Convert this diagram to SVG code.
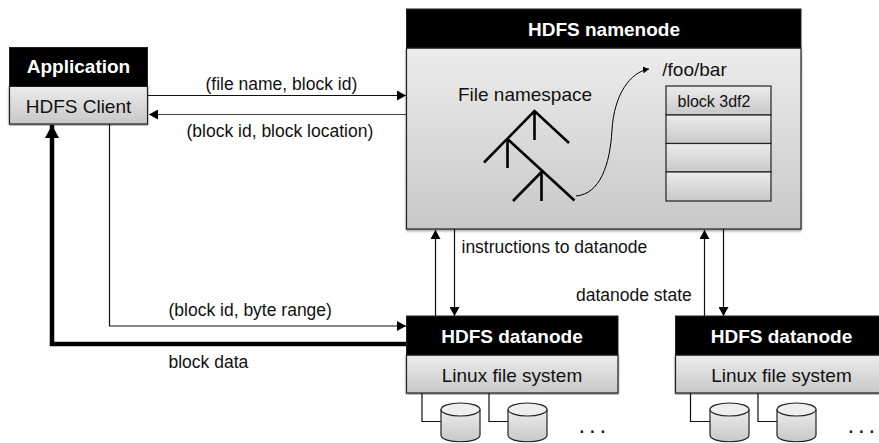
<svg xmlns="http://www.w3.org/2000/svg" width="879" height="443" viewBox="0 0 879 443">
<defs>
<linearGradient id="g" x1="0" y1="0" x2="0" y2="1"><stop offset="0" stop-color="#ececec"/><stop offset="1" stop-color="#c8c8c8"/></linearGradient>
<filter id="s" x="-5%" y="-5%" width="110%" height="110%"><feDropShadow dx="0" dy="1.5" stdDeviation="1.2" flood-color="#000" flood-opacity="0.4"/></filter>
<marker id="a" markerUnits="userSpaceOnUse" markerWidth="10" markerHeight="10" refX="9" refY="5" orient="auto"><path d="M0 0L9 5L0 10Z" fill="#000"/></marker>
<marker id="b" markerUnits="userSpaceOnUse" markerWidth="14" markerHeight="14" refX="13" refY="7" orient="auto"><path d="M0 0L13 7L0 14Z" fill="#000"/></marker>
<marker id="c" markerUnits="userSpaceOnUse" markerWidth="7" markerHeight="7" refX="6" refY="3.5" orient="auto"><path d="M0 0L6 3.5L0 7Z" fill="#000"/></marker>
<g id="cyl"><path d="M0 6.500V32C0 41 39 41 39 32V6.500" fill="url(#g)" stroke="#222" stroke-width="1.2"/><ellipse cx="19.500" cy="6.500" rx="19.500" ry="6.500" fill="#eee" stroke="#222" stroke-width="1.2"/></g>
</defs>
<style>
text{font-family:"Liberation Sans",Arial,sans-serif;fill:#111}
.t{font-size:17.500px}.n{font-size:19px;text-anchor:middle}.h{font-size:19px;font-weight:bold;fill:#fff;text-anchor:middle}
.d{font-size:24px}
.body{fill:url(#g);stroke:#222;stroke-width:1.2}.head{fill:#000;stroke:#222}
.l{fill:none;stroke:#111;stroke-width:1.2}.tree{fill:none;stroke:#000;stroke-width:2.600}
</style>
<g id="connectors">
<path class="l" d="M148 95.500H406" marker-end="url(#a)"/>
<path class="l" d="M406 114.500H149" marker-end="url(#a)" style="stroke:#444"/>
<path class="l" d="M109.500 124V326H406" marker-end="url(#a)"/>
<path fill="none" stroke="#000" stroke-width="4.500" d="M406 344H52V125" marker-end="url(#b)"/>
<path class="l" d="M435.500 316V230" marker-end="url(#a)"/>
<path class="l" d="M454.500 229V316" marker-end="url(#a)"/>
<path class="l" d="M704.500 316V230" marker-end="url(#a)"/>
<path class="l" d="M723.500 229V316" marker-end="url(#a)"/>
<path class="l" d="M422 393V421.500H441M489 393V421.500H508M690.500 393V421.500H710M758 393V421.500H777"/>
</g>
<g id="application"><rect class="body" x="9.500" y="86" width="138" height="38" filter="url(#s)"/><rect class="head" x="9.500" y="47.500" width="138" height="39"/><text class="h" x="78.500" y="73">Application</text><text class="n" x="78.500" y="113">HDFS Client</text></g>
<g id="namenode"><rect class="body" x="406.500" y="48" width="394.500" height="181" filter="url(#s)"/><rect class="head" x="406.500" y="9" width="394.500" height="39"/><text class="h" x="604" y="36">HDFS namenode</text>
<text class="n" x="525" y="101">File namespace</text><text class="n" x="694.500" y="76">/foo/bar</text>
<g id="blocks"><rect class="body" x="666" y="86" width="105" height="29"/><rect class="body" x="666" y="115" width="105" height="28.500"/><rect class="body" x="666" y="143.500" width="105" height="28.500"/><rect class="body" x="666" y="172" width="105" height="29"/><text x="677.500" y="107" style="font-size:16px">block 3df2</text></g>
<path class="tree" d="M484 162.500L534.500 111L569 143M534.500 111V140M507.500 139V168M507.500 139L574.500 200.500M542 171.500L513 201M541.500 171.500V201"/>
<path d="M576 196C600 194 610 165 612 130C614 95 630 72 649 69" fill="none" stroke="#000" stroke-width="1" marker-end="url(#c)"/></g>
<g id="datanode1"><rect class="body" x="406.500" y="355" width="211.500" height="38" filter="url(#s)"/><rect class="head" x="406.500" y="316" width="211.500" height="39"/><text class="h" x="512" y="342.500">HDFS datanode</text><text class="n" x="512" y="381.500">Linux file system</text>
<use href="#cyl" x="441" y="403"/><use href="#cyl" x="508" y="403"/><text class="d" x="578.500 589 599.500" y="433">...</text></g>
<g id="datanode2"><rect class="body" x="675.500" y="355" width="212" height="38" filter="url(#s)"/><rect class="head" x="675.500" y="316" width="212" height="39"/><text class="h" x="781.500" y="342.500">HDFS datanode</text><text class="n" x="781.500" y="381.500">Linux file system</text>
<use href="#cyl" x="710" y="403"/><use href="#cyl" x="777" y="403"/><text class="d" x="847.500 858 868.500" y="433">...</text></g>
<g id="labels"><text class="t" x="205.500" y="90">(file name, block id)</text><text class="t" x="186.500" y="137">(block id, block location)</text><text class="t" x="168.500" y="316">(block id, byte range)</text><text class="t" x="168.500" y="368">block data</text><text class="t" x="461.500" y="252.500">instructions to datanode</text><text class="t" x="576" y="300.500">datanode state</text></g>
</svg>
